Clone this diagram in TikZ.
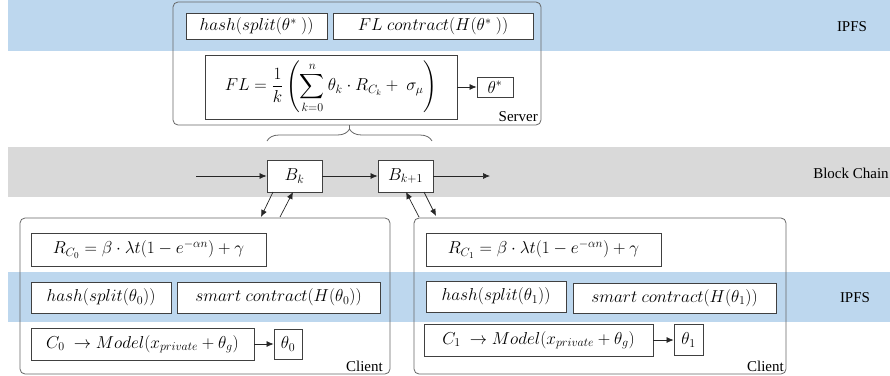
\documentclass[tikz,border=0pt]{standalone}
\usepackage[no-math]{fontspec}
\setmainfont{Liberation Serif}
\usepackage{amsmath}
\usetikzlibrary{decorations.pathreplacing,arrows.meta,calc}
\definecolor{bandblue}{RGB}{189,215,238}
\definecolor{bandgray}{RGB}{217,217,217}
\definecolor{edge}{RGB}{64,64,64}
\tikzset{
  box/.style={draw=edge,fill=white,line width=0.8pt,inner sep=0pt,font=\fontsize{17.5}{20}\selectfont},
  group/.style={draw=edge!80,line width=0.8pt,rounded corners=5pt,inner sep=0pt},
  conn/.style={draw=black!85,line width=0.7pt,-{Latex[length=7pt,width=6pt]}},
  lbl/.style={font=\fontsize{15}{18}\selectfont,inner sep=0pt},
}
\begin{document}
\begin{tikzpicture}[x=1pt,y=-1pt]
\useasboundingbox (0,0) rectangle (890,375);
% bands
\fill[bandblue] (8,0) rectangle (890,51);
\fill[bandgray] (8,147) rectangle (890,197);
\fill[bandblue] (8,272) rectangle (890,322);
% layer labels
\node[lbl] (ipfsT) at (852,27) {IPFS};
\node[lbl] (chain) at (851,173) {Block Chain};
\node[lbl] (ipfsB) at (855,298) {IPFS};
% server
\node[group,minimum width=368pt,minimum height=123pt] (server) at (357,63.5) {};
\node[box,minimum width=141pt,minimum height=26pt] (hashS) at (256.5,26) {$hash(split(\theta^*\ ))$};
\node[box,minimum width=200pt,minimum height=26pt] (flc) at (433,26) {$FL\ contract(H(\theta^*\ ))$};
\node[box,minimum width=252pt,minimum height=64pt,font=\fontsize{16.5}{19}\selectfont] (flf) at (331,87) {$\displaystyle FL=\frac{1}{k}\left(\sum_{k=0}^{n}\theta_k\cdot R_{C_k}+\ \sigma_\mu\right)$};
\node[box,minimum width=36pt,minimum height=20pt] (ths) at (495,87) {$\theta^*$};
\draw[conn] (flf) -- (ths);
\node[lbl,anchor=south east] (slbl) at (538,122) {Server};
% brace
\coordinate (bl) at (267,141);
\coordinate (br) at (432,141);
\coordinate (btip) at (349.5,129);
\draw[edge!80,line width=0.8pt,decorate,decoration={brace,amplitude=12pt,aspect=0.5}] (bl) -- (br);
\draw[edge!80,line width=0.8pt] (btip) -- (btip |- server.south);
% blocks
\node[box,minimum width=55pt,minimum height=32pt] (Bk) at (294.5,176) {$B_k$};
\node[box,minimum width=55pt,minimum height=32pt] (Bk1) at (405.5,176) {$B_{k+1}$};
\coordinate (cin) at (196,176);
\coordinate (cout) at (490,176);
\draw[conn] (cin) -- (Bk);
\draw[conn] (Bk) -- (Bk1);
\draw[conn] (Bk1) -- (cout);
% clients
\node[group,minimum width=370pt,minimum height=156pt] (cl0) at (205,296) {};
\node[group,minimum width=372pt,minimum height=156pt] (cl1) at (600,296) {};
\node[lbl,anchor=south east] (c0lbl) at (383,372) {Client};
\node[lbl,anchor=south east] (c1lbl) at (784,372) {Client};
% client 0
\node[box,minimum width=235pt,minimum height=33pt] (rc0) at (148.5,249.5) {$R_{C_0}=\beta\cdot\lambda t(1-e^{-\alpha n})+\gamma$};
\node[box,minimum width=140pt,minimum height=31pt] (h0) at (101,297.5) {$hash(split(\theta_0))$};
\node[box,minimum width=203pt,minimum height=31pt] (sc0) at (278.5,297.5) {$smart\ contract(H(\theta_0))$};
\node[box,minimum width=223pt,minimum height=32pt] (m0) at (142.5,344) {$C_0\ \rightarrow Model(x_{private}+\theta_g)$};
\node[box,minimum width=28pt,minimum height=30pt] (t0) at (288,344) {$\theta_0$};
\draw[conn] (m0) -- (t0);
% client 1
\node[box,minimum width=235pt,minimum height=33pt] (rc1) at (543.5,249.5) {$R_{C_1}=\beta\cdot\lambda t(1-e^{-\alpha n})+\gamma$};
\node[box,minimum width=140pt,minimum height=31pt] (h1) at (496,296.5) {$hash(split(\theta_1))$};
\node[box,minimum width=203pt,minimum height=30pt] (sc1) at (674.5,298) {$smart\ contract(H(\theta_1))$};
\node[box,minimum width=229pt,minimum height=32pt] (m1) at (538.5,340) {$C_1\ \rightarrow Model(x_{private}+\theta_g)$};
\node[box,minimum width=29pt,minimum height=31pt] (t1) at (688.5,340) {$\theta_1$};
\draw[conn] (m1) -- (t1);
% block <-> client links
\coordinate (a1s) at (273,192);
\coordinate (a1e) at (261,217);
\coordinate (a2s) at (280,217);
\coordinate (a2e) at (293,192);
\coordinate (a3s) at (419,217);
\coordinate (a3e) at (406,192);
\coordinate (a4s) at (424,192);
\coordinate (a4e) at (436,216);
\draw[conn] (a1s) -- (a1e);
\draw[conn] (a2s) -- (a2e);
\draw[conn] (a3s) -- (a3e);
\draw[conn] (a4s) -- (a4e);
\end{tikzpicture}
\end{document}
